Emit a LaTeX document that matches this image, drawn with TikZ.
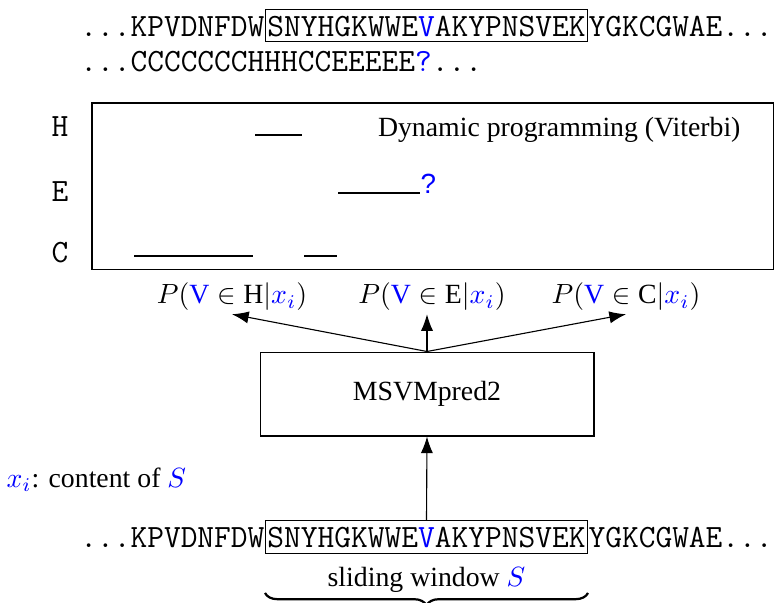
\documentclass[tikz,border=0pt]{standalone}
\usepackage{fontspec}
\setmainfont{Liberation Serif}
\newfontfamily\qmarkfont{Liberation Sans}
\usetikzlibrary{positioning,arrows.meta,decorations.pathreplacing,calc}
\newcommand{\seqfont}{\ttfamily\fontsize{11.7}{14}\selectfont}
\tikzset{
  seq/.style={font=\seqfont, inner sep=0pt, text height=9.8pt, text depth=2pt},
  window/.style={seq, draw, inner xsep=0.7pt},
  state/.style={font=\seqfont, inner sep=0pt},
  prob/.style={inner sep=1pt},
  path/.style={thick, line cap=butt},
}
\begin{document}
\begin{tikzpicture}[x=0.36pt, y=-0.36pt, >={Latex[length=6pt,width=4.4pt]},
  font=\fontsize{10}{12}\selectfont]
\useasboundingbox (0,0) rectangle (775,603);

% Sequence and sliding window (top)
\node[window] (win1) at (426.5,25.5) {SNYHGKWWE\textcolor{blue}{V}AKYPNSVEK};
\node[seq, left=0pt of win1] (pre1) {...KPVDNFDW};
\node[seq, right=0pt of win1] (post1) {YGKCGWAE...};
\node[seq, anchor=base west] (ss) at ($(pre1.base west)+(0,35)$)
  {...CCCCCCCHHHCCEEEEE\textcolor{blue}{?}...};

% Dynamic programming panel
\node[draw, inner sep=0pt, minimum width=245.2pt, minimum height=59.8pt] (panel) at (432.5,186) {};
\node[state] (lH) at (60,127) {H};
\node[state] (lE) at (60,192) {E};
\node[state] (lC) at (60,253) {C};
\node[anchor=east, inner sep=0pt] (dp) at (741,130) {Dynamic programming (Viterbi)};
\draw[path] (134,256) -- (253,256);
\draw[path] (255,135) -- (302,135);
\draw[path] (304,256) -- (337,256);
\draw[path] (338,193) -- (420,193);
\node[anchor=south west, inner sep=0pt, text=blue, font=\qmarkfont\fontsize{10}{12}\selectfont] (qE) at (420,194) {?};

% Class probabilities
\node[prob] (pH) at (232,297) {$P(\textcolor{blue}{\mathrm{V}}\in\mathrm{H}|\textcolor{blue}{x_i})$};
\node[prob] (pE) at (432,297) {$P(\textcolor{blue}{\mathrm{V}}\in\mathrm{E}|\textcolor{blue}{x_i})$};
\node[prob] (pC) at (626,297) {$P(\textcolor{blue}{\mathrm{V}}\in\mathrm{C}|\textcolor{blue}{x_i})$};

% Classifier
\node[draw, minimum width=120.2pt, minimum height=30.2pt] (svm) at (427,394) {MSVMpred2};
\draw[->] (svm.north) -- (pH.south);
\draw[->] (svm.north) -- (svm.north |- pE.south);
\draw[->] (svm.north) -- (pC.south);

% Sequence and sliding window (bottom)
\node[window] (win2) at (426.5,537) {SNYHGKWWE\textcolor{blue}{V}AKYPNSVEK};
\node[seq, left=0pt of win2] (pre2) {...KPVDNFDW};
\node[seq, right=0pt of win2] (post2) {YGKCGWAE...};
\draw[->] (win2.north) -- (svm.south);

\node[anchor=west, inner sep=0pt] (xi) at (6,480) {$\textcolor{blue}{x_i}$: content of $\textcolor{blue}{S}$};
\node (slide) at (426.5,580) {sliding window $\textcolor{blue}{S}$};
\draw[thick, decorate, decoration={brace, mirror, amplitude=4.5pt}]
  ($(win2.south west)+(0,39)$) -- ($(win2.south east)+(0,39)$);
\end{tikzpicture}
\end{document}
